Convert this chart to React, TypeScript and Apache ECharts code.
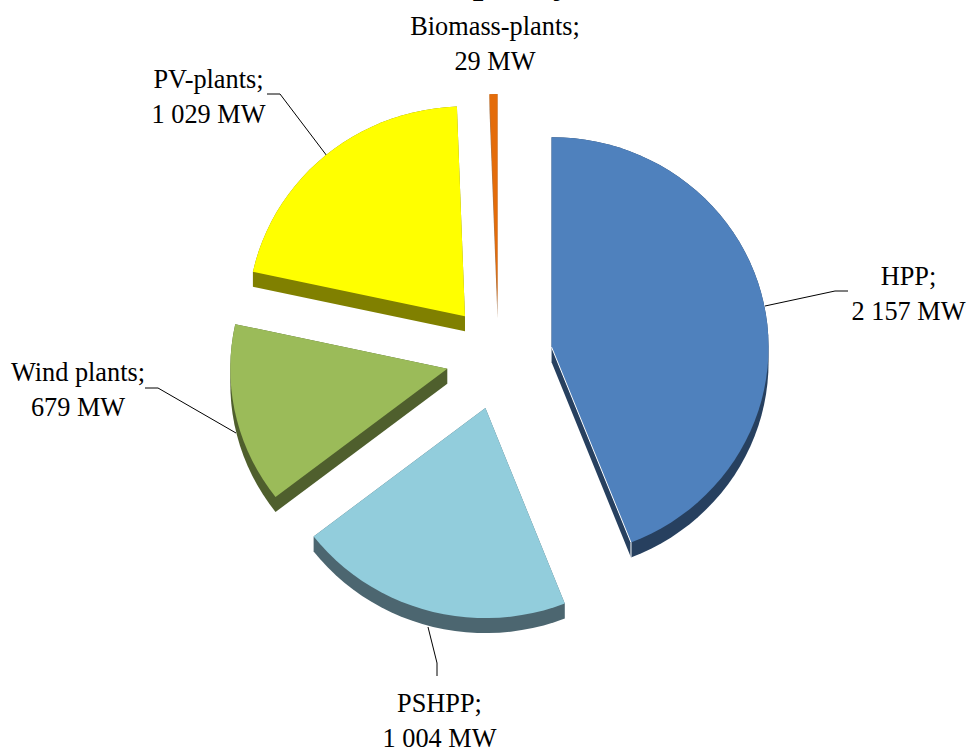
import React, { useEffect, useRef } from "react";
import * as echarts from "echarts";

// Installed capacity by plant type, MW. Slices run clockwise from twelve o'clock.
const plantNames = ["HPP", "PSHPP", "Wind plants", "PV-plants", "Biomass-plants"];
const capacityMw = [2157, 1004, 679, 1029, 29];
const valueLabels = ["2 157 MW", "1 004 MW", "679 MW", "1 029 MW", "29 MW"];
const titleText = "Installed capacity";

const topColors = ["#4F81BD", "#92CDDC", "#9BBB59", "#FFFF00", "#E46C0A"];
const sideColors = ["#27405F", "#4C6670", "#4F5F2D", "#808000", "#A9784E"];
const rimColors = ["#FFFFFF", null, null, null, null];

const WIDTH = 967;
const HEIGHT = 751;
const CENTER = { x: 498.5, y: 357 };
const RADIUS = { x: 217, y: 210 };
const EXPLODE = 53;
const DEPTH = 15;
const ARC_STEP = (3 * Math.PI) / 180;
const LABEL_FONT = '26.3px "Liberation Serif"';

// Small per-slice horizontal corrections on top of the explode offset.
const sliceShiftX = [1, 1, 0.5, 0.5, 0];

const labelAnchors: [number, number][] = [
  [908.5, 293.5],
  [439.5, 720.5],
  [78, 390],
  [208.5, 97],
  [495, 43.5],
];
const leaderLines: [number, number][][] = [
  [[765, 306], [835, 291], [848, 291]],
  [[428, 627], [437, 663], [437, 676]],
  [[236, 433], [158, 388], [145, 388]],
  [[327, 156], [280, 94], [267, 94]],
];

type Pt = [number, number];

// Convex hull of the face and its lowered copy gives the visible wall of a slice.
function convexHull(points: Pt[]): Pt[] {
  const sorted = [...points].sort((a, b) => a[0] - b[0] || a[1] - b[1]);
  const cross = (o: Pt, a: Pt, b: Pt) =>
    (a[0] - o[0]) * (b[1] - o[1]) - (a[1] - o[1]) * (b[0] - o[0]);
  const chain = (pts: Pt[]) => {
    const out: Pt[] = [];
    for (const p of pts) {
      while (out.length >= 2 && cross(out[out.length - 2], out[out.length - 1], p) <= 0) out.pop();
      out.push(p);
    }
    out.pop();
    return out;
  };
  return [...chain(sorted), ...chain([...sorted].reverse())];
}

function sliceAngles(index: number): [number, number] {
  const total = capacityMw.reduce((s, v) => s + v, 0);
  const before = capacityMw.slice(0, index).reduce((s, v) => s + v, 0);
  return [(before / total) * 2 * Math.PI, ((before + capacityMw[index]) / total) * 2 * Math.PI];
}

function renderSlice(params: any) {
  const i = params.dataIndex;
  const [start, end] = sliceAngles(i);
  const mid = (start + end) / 2;
  const apex: Pt = [
    CENTER.x + sliceShiftX[i] + EXPLODE * Math.sin(mid),
    CENTER.y - EXPLODE * Math.cos(mid),
  ];
  const face: Pt[] = [apex];
  const steps = Math.max(1, Math.ceil((end - start) / ARC_STEP));
  for (let k = 0; k <= steps; k++) {
    const a = start + ((end - start) * k) / steps;
    face.push([apex[0] + RADIUS.x * Math.sin(a), apex[1] - RADIUS.y * Math.cos(a)]);
  }
  const lowered = face.map(([x, y]): Pt => [x, y + DEPTH]);
  const children: any[] = [
    {
      type: "polygon",
      shape: { points: convexHull([...face, ...lowered]) },
      style: { fill: sideColors[i] },
    },
    { type: "polygon", shape: { points: face }, style: { fill: topColors[i] } },
  ];
  const rim = rimColors[i];
  if (rim) {
    const last = face[face.length - 1];
    children.push({
      type: "polyline",
      shape: { points: [apex, last, [last[0], last[1] + DEPTH]] },
      style: { stroke: rim, lineWidth: 1, fill: "none" },
    });
  }
  return { type: "group", children };
}

export default function App() {
  const ref = useRef<HTMLDivElement>(null);

  useEffect(() => {
    const chart = echarts.init(ref.current!, undefined, { renderer: "svg" });
    const labels = plantNames.map((name, i) => ({
      type: "text",
      x: labelAnchors[i][0],
      y: labelAnchors[i][1],
      silent: true,
      style: {
        text: `${name};\n${valueLabels[i]}`,
        font: LABEL_FONT,
        lineHeight: 35,
        fill: "#000000",
        textAlign: "center",
        textVerticalAlign: "middle",
      },
    }));
    const leaders = leaderLines.map((points) => ({
      type: "polyline",
      silent: true,
      shape: { points },
      style: { stroke: "#000000", lineWidth: 1, fill: "none" },
    }));
    chart.setOption({
      animation: false,
      backgroundColor: "#FFFFFF",
      graphic: [
        {
          type: "text",
          x: 572,
          y: -1,
          silent: true,
          style: {
            text: titleText,
            font: 'bold 38px "Liberation Serif"',
            fill: "#000000",
            textAlign: "right",
            textVerticalAlign: "bottom",
          },
        },
        ...labels,
        ...leaders,
      ],
      series: [
        {
          type: "custom",
          coordinateSystem: "none",
          silent: true,
          renderItem: renderSlice,
          data: capacityMw,
        },
      ],
    });
    return () => chart.dispose();
  }, []);

  return (
    <div
      ref={ref}
      style={{ position: "absolute", left: 0, top: 0, width: WIDTH, height: HEIGHT }}
    />
  );
}
